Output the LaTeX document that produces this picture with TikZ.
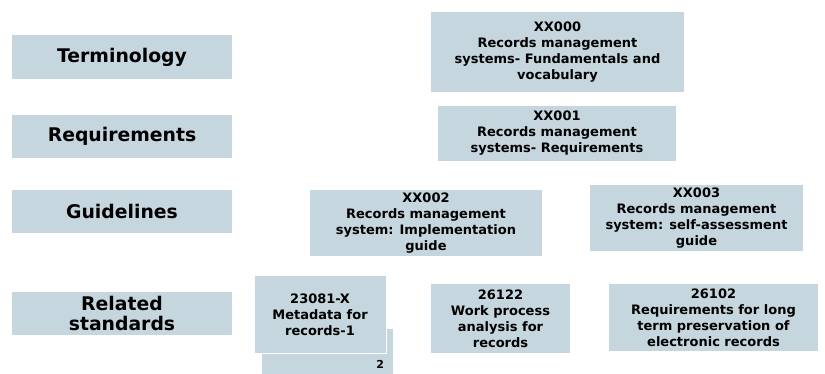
\documentclass[tikz,border=0pt]{standalone}
\usepackage{fontspec}
\setmainfont{DejaVu Sans}
\usetikzlibrary{positioning}
\definecolor{boxblue}{RGB}{197,214,222}

\begin{document}
\begin{tikzpicture}[x=1pt, y=-1pt,
  every node/.style={inner sep=0pt, align=center},
  cat/.style={fill=boxblue, minimum width=220pt, minimum height=43.5pt, font=\fontsize{18.8}{20.5}\selectfont\bfseries},
  std/.style={fill=boxblue, font=\fontsize{13}{16}\selectfont\bfseries},
  sheet/.style={std, draw=white, line width=1pt}]
\useasboundingbox (0,0) rectangle (825,374);
% category column
\node[cat] (term) at (122,57) {Terminology};
\node[cat] (req) at (122,136.5) {Requirements};
\node[cat] (guide) at (122,211.5) {Guidelines};
\node[cat] (rel) at (122,313.5) {Related\\standards};
% standards
\node[std, minimum width=253pt, minimum height=80pt] (xx000) at (557.5,52) {XX000\\Records management\\systems- Fundamentals and\\vocabulary};
\node[std, minimum width=238pt, minimum height=55pt] (xx001) at (557,133.5) {XX001\\Records management\\systems- Requirements};
\node[std, minimum width=232pt, minimum height=66pt] (xx002) at (426,223) {XX002\\Records management\\system: Implementation\\guide};
\node[std, minimum width=213pt, minimum height=66pt] (xx003) at (696.5,218) {XX003\\Records management\\system: self-assessment\\guide};
% metadata, two parts
\node[std, minimum width=131pt, minimum height=45pt] (meta2) at (327.5,351.5) {};
\node[font=\fontsize{11}{13}\selectfont\bfseries, anchor=south east] (num2) at ([xshift=-9pt, yshift=6pt]meta2.south east) {2};
\node[sheet, minimum width=132pt, minimum height=77pt] (meta1) at (320,314.5) {23081-X\\Metadata for\\records-1};
\node[std, minimum width=139pt, minimum height=69pt] (wp) at (500.5,318.5) {26122\\Work process\\analysis for\\records};
\node[std, minimum width=209pt, minimum height=67pt] (lt) at (713.5,317.5) {26102\\Requirements for long\\term preservation of\\electronic records};
\end{tikzpicture}
\end{document}
